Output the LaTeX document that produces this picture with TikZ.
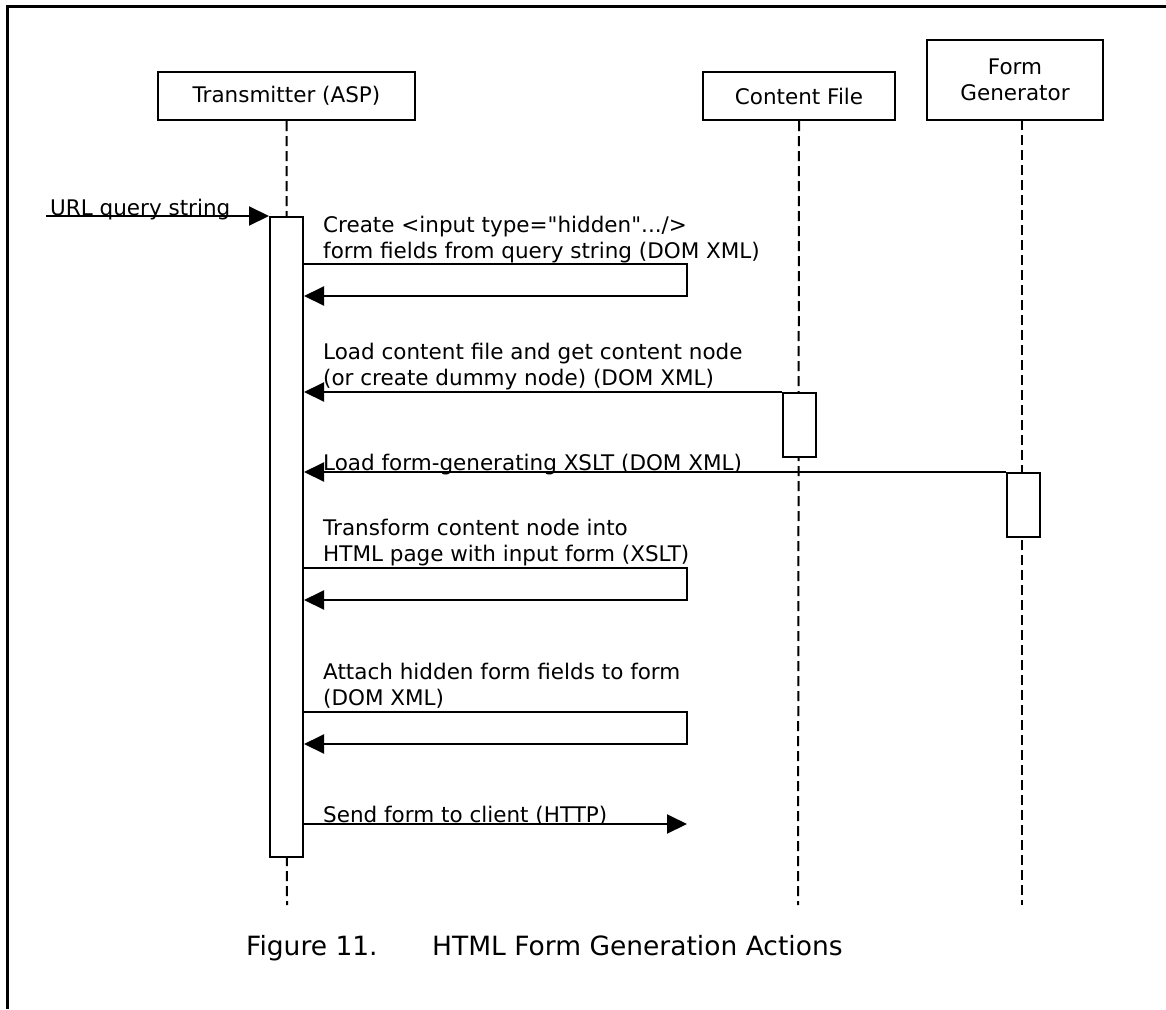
\documentclass[tikz,border=0pt]{standalone}
\usepackage{fontspec}
\setmainfont{DejaVu Sans}
\usetikzlibrary{arrows.meta}

\newcommand{\lblfont}{\fontsize{21.5}{26}\selectfont}
\newcommand{\capfont}{\fontsize{26.5}{30}\selectfont}

\tikzset{
  actor/.style={draw, line width=2pt, minimum height=48pt, inner sep=0pt, font=\lblfont, align=center},
  life/.style={line width=2pt, dash pattern=on 10pt off 5pt},
  activ/.style={draw, fill=white, line width=2pt, minimum width=33pt, inner sep=0pt},
  msg/.style={line width=2pt, -{Triangle[length=20pt,width=19pt]}},
  note/.style={font=\lblfont, align=left, anchor=base west, inner sep=0pt}
}

\begin{document}
\begin{tikzpicture}[x=1pt, y=-1pt]
  \useasboundingbox (0,0) rectangle (1166,1009);
  \draw[line width=2.8pt] (7.7,1009) -- (7.7,6.3) -- (1166,6.3);

  \node[actor, minimum width=257pt] (tx) at (286.5,96) {Transmitter (ASP)};
  \node[actor, minimum width=192pt] (cf) at (799,96) {Content File};
  \node[actor, minimum width=176pt, minimum height=80pt] (fg) at (1015,80) {Form\\Generator};

  \coordinate (txend) at (287,905);
  \coordinate (cfend) at (798,905);
  \coordinate (fgtop) at (1022,120);
  \coordinate (fgend) at (1022,905);
  \draw[life] (tx.south) -- (txend);
  \draw[life] (cf.south) -- (cfend);
  \draw[life] (fgtop) -- (fgend);

  \node[activ, minimum height=640pt, anchor=north] (txbar) at (286.5,216) {};
  \node[activ, minimum height=64pt, anchor=north] (cfbar) at (799,392) {};
  \node[activ, minimum height=64pt, anchor=north] (fgbar) at (1023,472) {};

  % incoming request
  \coordinate (urlin) at (46,216);
  \draw[msg] (urlin) -- (txbar.north west);
  \node[note] (urltxt) at (50,215) {URL query string};

  \node[note] (m1) at (323,258) {Create <input type=\textquotedbl hidden\textquotedbl.../>\\form fields from query string (DOM XML)};
  \draw[msg] (txbar.east |- 0,264) -- ++(383,0) |- (txbar.east |- 0,296);

  \node[note] (m2) at (323,385) {Load content file and get content node\\(or create dummy node) (DOM XML)};
  \draw[msg] (cfbar.north west) -- (txbar.east |- cfbar.north west);

  \node[note] (m3) at (323,470) {Load form-generating XSLT (DOM XML)};
  \draw[msg] (fgbar.north west) -- (txbar.east |- fgbar.north west);

  \node[note] (m4) at (323,561) {Transform content node into\\HTML page with input form (XSLT)};
  \draw[msg] (txbar.east |- 0,568) -- ++(383,0) |- (txbar.east |- 0,600);

  \node[note] (m5) at (323,705) {Attach hidden form fields to form\\(DOM XML)};
  \draw[msg] (txbar.east |- 0,712) -- ++(383,0) |- (txbar.east |- 0,744);

  \node[note] (m6) at (323,822) {Send form to client (HTTP)};
  \draw[msg] (txbar.east |- 0,824) -- ++(383,0);

  \node[anchor=base west, inner sep=0pt, font=\capfont] (fignum) at (246,955) {Figure 11.};
  \node[anchor=base west, inner sep=0pt, font=\capfont] (figtitle) at (432,955) {HTML Form Generation Actions};
\end{tikzpicture}
\end{document}
